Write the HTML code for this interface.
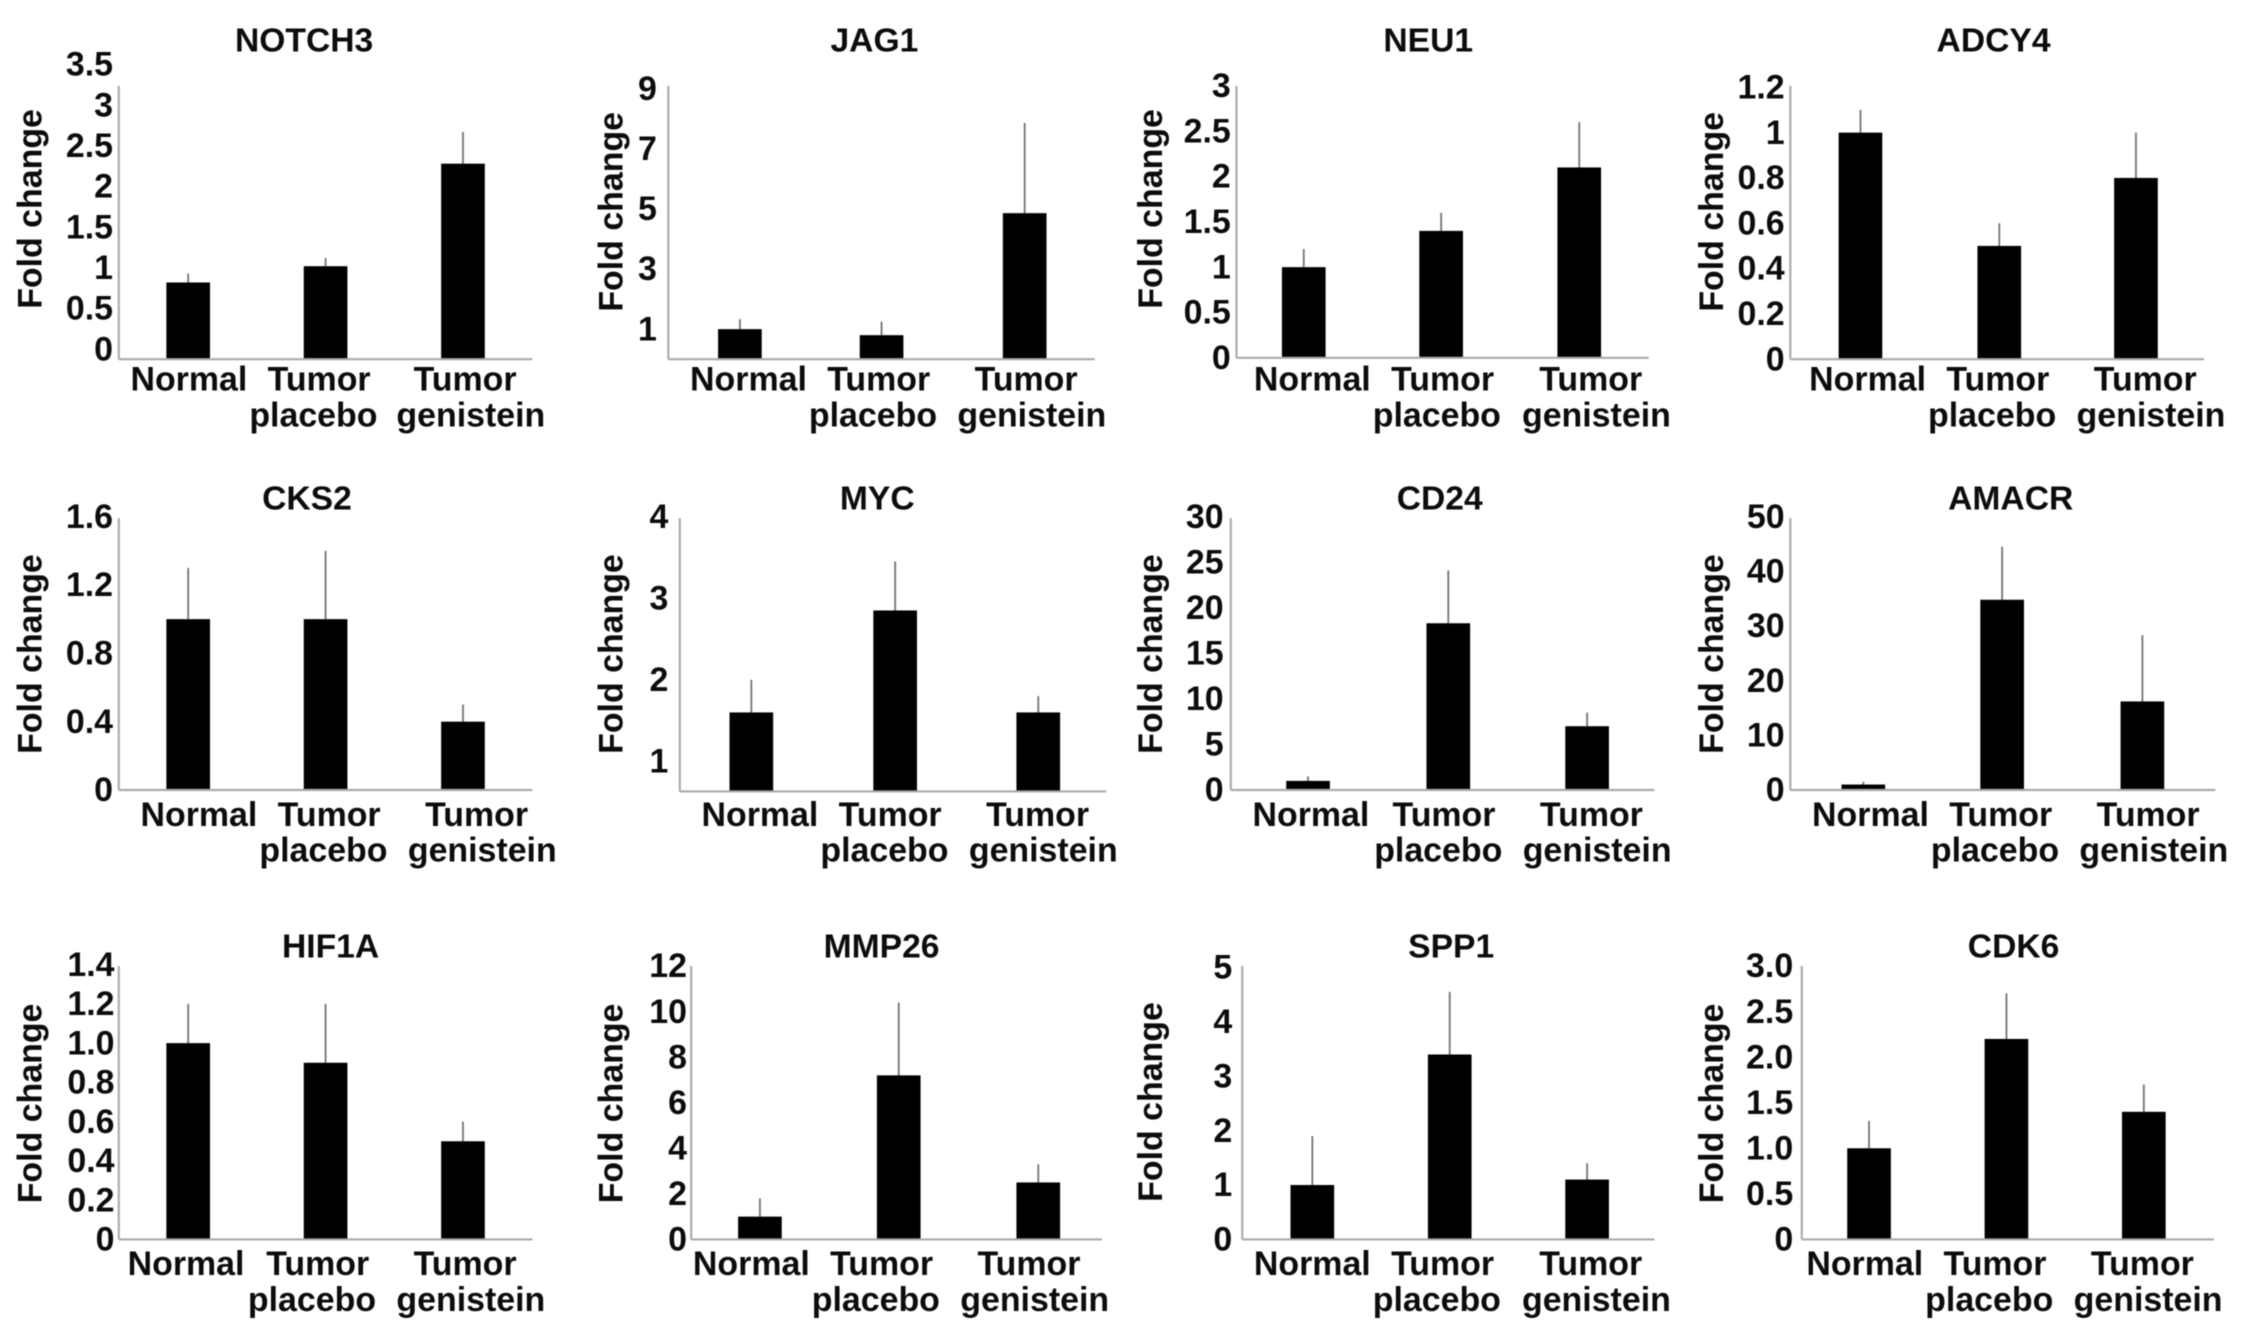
<!DOCTYPE html>
<html lang="en">
<head>
<meta charset="utf-8">
<title>Fold change of gene expression</title>
<style>
html,body{margin:0;padding:0;background:#fff;}
body{width:2244px;height:1336px;overflow:hidden;}
#chart{display:block;width:2244px;height:1336px;filter:blur(0.6px);}
text{font-family:"Liberation Sans",sans-serif;font-weight:bold;fill:#0c0c0c;}
.tick,.cat{font-size:23.7px;}
.title{font-size:23.5px;}
.ylab{font-size:23.7px;font-weight:bold;}
</style>
</head>
<body>
<svg id="chart" xmlns="http://www.w3.org/2000/svg" viewBox="0 0 1568 933.5" preserveAspectRatio="none"></svg>
<script>
// ---- data ----
const genes = ["NOTCH3","JAG1","NEU1","ADCY4","CKS2","MYC","CD24","AMACR","HIF1A","MMP26","SPP1","CDK6"];
const categories = ["Normal","Tumor placebo","Tumor genistein"];
const tickLabels = [
  ["0","0.5","1","1.5","2","2.5","3","3.5"],
  ["1","3","5","7","9"],
  ["0","0.5","1","1.5","2","2.5","3"],
  ["0","0.2","0.4","0.6","0.8","1","1.2"],
  ["0","0.4","0.8","1.2","1.6"],
  ["1","2","3","4"],
  ["0","5","10","15","20","25","30"],
  ["0","10","20","30","40","50"],
  ["0","0.2","0.4","0.6","0.8","1.0","1.2","1.4"],
  ["0","2","4","6","8","10","12"],
  ["0","1","2","3","4","5"],
  ["0","0.5","1.0","1.5","2.0","2.5","3.0"]
];
const normalMeans    = [0.82,1.0,1.0,1.0,1.0,1.6,1.0,1.0,1.0,1.0,1.0,1.0];
const placeboMeans   = [1.02,0.8,1.4,0.5,1.0,2.85,18.3,34.8,0.9,7.2,3.4,2.2];
const genisteinMeans = [2.28,4.86,2.1,0.8,0.4,1.6,7.0,16.2,0.5,2.5,1.1,1.4];
const normalErrors    = [0.11,0.33,0.2,0.1,0.3,0.4,0.5,0.5,0.2,0.8,0.9,0.3];
const placeboErrors   = [0.1,0.45,0.2,0.1,0.4,0.6,5.8,9.7,0.3,3.2,1.15,0.5];
const genisteinErrors = [0.39,3.0,0.5,0.2,0.1,0.2,1.5,12.1,0.1,0.8,0.3,0.3];

// ---- layout of each small panel (figure units) ----
const frames = [
 {axisX:83, axisEnd:372, top:60, base:251, tickLow:244, tickHigh:45, tickRight:79, bars:[131.5,227.5,323.5], cats:[132,219,329], titleX:212.5, titleY:36, yLabX:21, yLabY:146, catY:273},
 {axisX:467,axisEnd:765, top:60, base:251, tickLow:230, tickHigh:62, tickRight:459,bars:[517,616,716], cats:[523,610,721], titleX:611, titleY:36, yLabX:427,yLabY:148, catY:273},
 {axisX:864,axisEnd:1152,top:60, base:250, tickLow:250, tickHigh:60, tickRight:860,bars:[911,1007,1103.5],cats:[917,1004,1115.5],titleX:998, titleY:36, yLabX:804,yLabY:146, catY:273},
 {axisX:1251,axisEnd:1540,top:60,base:251, tickLow:251, tickHigh:61, tickRight:1247,bars:[1300,1397,1492.5],cats:[1305,1392,1503],titleX:1393,titleY:36,yLabX:1196,yLabY:148,catY:273},
 {axisX:83, axisEnd:372, top:362,base:552, tickLow:552, tickHigh:361,tickRight:79, bars:[131.5,227.5,323.5], cats:[139,226,337], titleX:214.5, titleY:356,yLabX:21, yLabY:457, catY:577},
 {axisX:475,axisEnd:773, top:362,base:553, tickLow:532, tickHigh:361,tickRight:467,bars:[525,625.5,725.5], cats:[531,618,729], titleX:613, titleY:356,yLabX:427,yLabY:457, catY:577},
 {axisX:860,axisEnd:1156,top:362,base:552, tickLow:552, tickHigh:361,tickRight:855,bars:[914,1012,1109],cats:[916,1005,1116],titleX:1006,titleY:356,yLabX:804,yLabY:457, catY:577},
 {axisX:1251,axisEnd:1548,top:362,base:552,tickLow:552, tickHigh:361,tickRight:1247,bars:[1302,1399,1497],cats:[1307,1394,1505],titleX:1405,titleY:356,yLabX:1196,yLabY:457,catY:577},
 {axisX:83, axisEnd:372, top:675,base:866, tickLow:866, tickHigh:674,tickRight:80, bars:[131.5,227.5,323.5], cats:[130,218,329], titleX:231, titleY:669,yLabX:21, yLabY:771, catY:891},
 {axisX:483,axisEnd:770, top:675,base:866, tickLow:866, tickHigh:675,tickRight:480,bars:[531,628,725.5], cats:[525,612,723], titleX:616, titleY:669,yLabX:427,yLabY:771, catY:891},
 {axisX:868,axisEnd:1156,top:675,base:866, tickLow:866, tickHigh:676,tickRight:861,bars:[917,1013,1109],cats:[917,1004,1115.5],titleX:1014,titleY:669,yLabX:804,yLabY:770, catY:891},
 {axisX:1259,axisEnd:1547,top:675,base:866,tickLow:866, tickHigh:675,tickRight:1253,bars:[1306,1402,1498],cats:[1303,1390,1501],titleX:1407,titleY:669,yLabX:1196,yLabY:771,catY:891}
];
const barWidth = 30.5;
const lineGap = 25;
const tumorShift = 4;

const SVGNS = "http://www.w3.org/2000/svg";
const chart = document.getElementById("chart");

function make(tag, attrs, parent, content) {
  const el = document.createElementNS(SVGNS, tag);
  for (const k in attrs) el.setAttribute(k, attrs[k]);
  if (content !== undefined) el.textContent = content;
  parent.appendChild(el);
  return el;
}

// axis function: maps a value to a vertical position using the panel's tick range
function yAxis(i) {
  const f = frames[i];
  const ticks = tickLabels[i].map(Number);
  const lo = ticks[0], hi = ticks[ticks.length - 1];
  return v => f.tickLow + (v - lo) / (hi - lo) * (f.tickHigh - f.tickLow);
}

genes.forEach((gene, i) => {
  const f = frames[i];
  const y = yAxis(i);
  const means = [normalMeans[i], placeboMeans[i], genisteinMeans[i]];
  const errs = [normalErrors[i], placeboErrors[i], genisteinErrors[i]];

  const panel = make("g", {}, chart);
  
  

  const title = make("text", {class:"title", x:f.titleX, y:f.titleY, "text-anchor":"middle"}, panel, gene);
  
  

  const yTitle = make("text", {class:"ylab", x:0, y:0, "text-anchor":"middle",
    transform:"translate(" + (f.yLabX + 8) + " " + f.yLabY + ") rotate(-90)"}, panel, "Fold change");
  
  

  tickLabels[i].forEach(label => {
    const t = make("text", {class:"tick", x:f.tickRight, y:y(Number(label)) + 7.8, "text-anchor":"end"}, panel, label);
    
    
  });

  means.forEach((m, c) => {
    const cx = f.bars[c];
    const err = make("line", {x1:cx, x2:cx, y1:y(m), y2:y(m + errs[c]), stroke:"#777", "stroke-width":1.3}, panel);
    
    

    const bar = make("rect", {x:cx - barWidth / 2, y:y(m), width:barWidth, height:f.base - y(m), fill:"#000"}, panel);
    
    
  });

  const yLine = make("line", {x1:f.axisX, x2:f.axisX, y1:f.top, y2:f.base, stroke:"#aaa", "stroke-width":1.5}, panel);
  
  

  const xLine = make("line", {x1:f.axisX, x2:f.axisEnd, y1:f.base, y2:f.base, stroke:"#aaa", "stroke-width":1.5}, panel);
  
  

  categories.forEach((cat, c) => {
    const words = cat.split(" ");
    const shift = c === 1 ? tumorShift : c === 2 ? -tumorShift : 0;
    words.forEach((word, w) => {
      const isTop = w === 0 && words.length > 1;
      const label = make("text", {class:"cat", x:f.cats[c] + (isTop ? shift : 0), y:f.catY + w * lineGap, "text-anchor":"middle"}, panel, word);
      
      
    });
  });
});
</script>
</body>
</html>
